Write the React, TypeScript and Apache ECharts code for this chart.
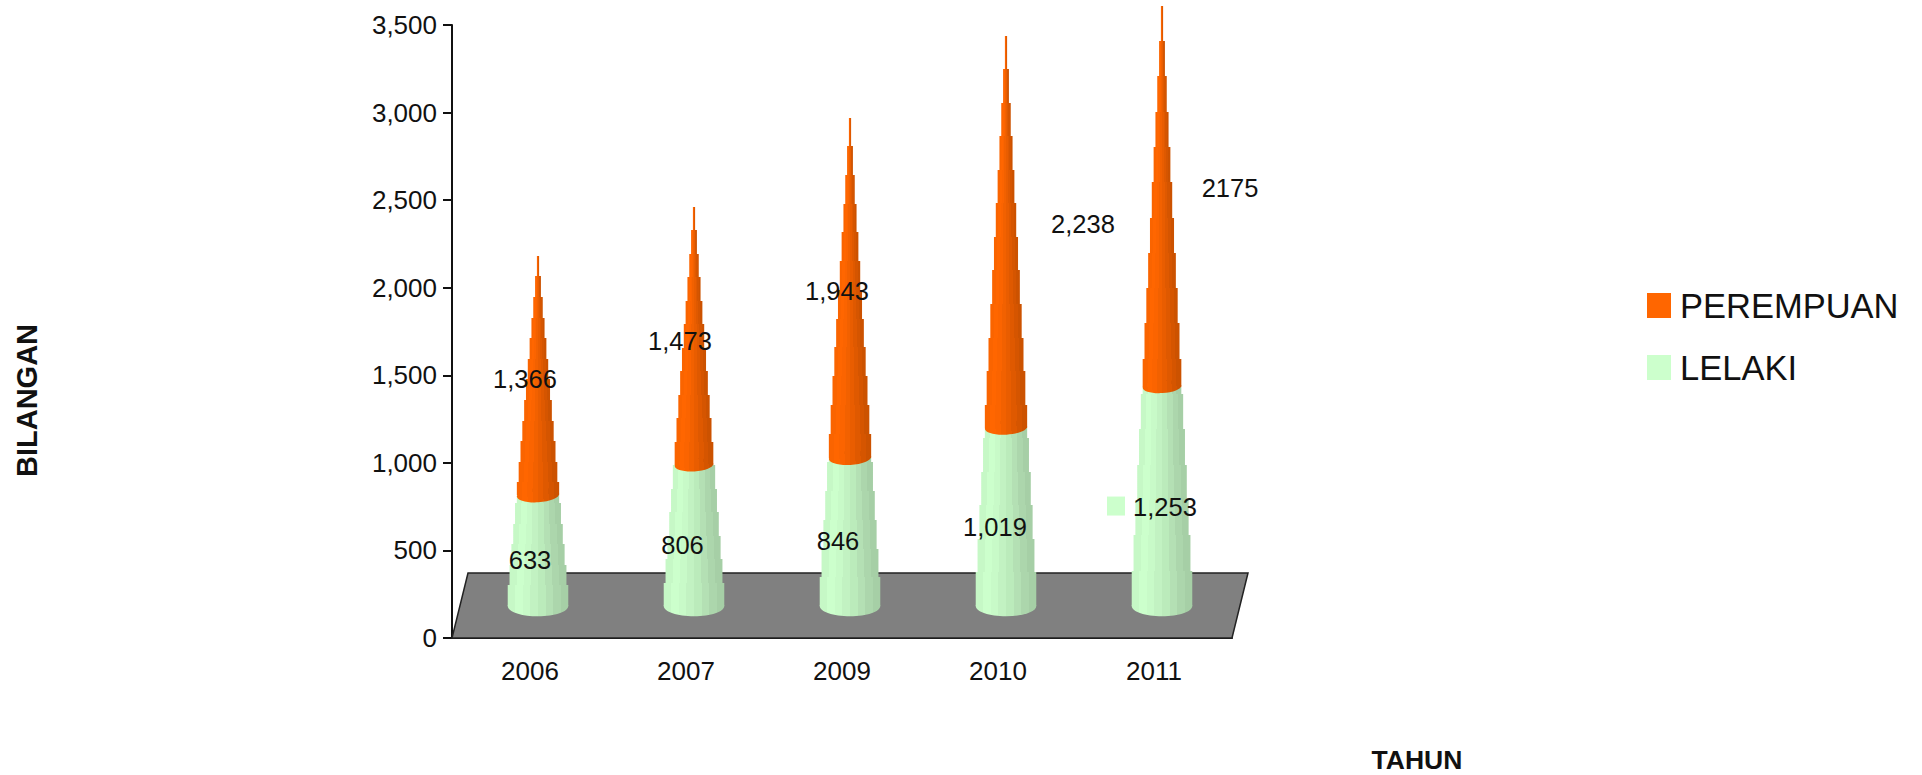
import React, { useEffect, useRef } from "react";
import * as echarts from "echarts";

const categories = ["2006", "2007", "2009", "2010", "2011"];
const lelaki = [633, 806, 846, 1019, 1253];
const perempuan = [1366, 1473, 1943, 2238, 2175];
const lelakiLabels = ["633", "806", "846", "1,019", "1,253"];
const perempuanLabels = ["1,366", "1,473", "1,943", "2,238", "2175"];

// layout only: hand-placed label offsets from each mark's top
const lelakiLabelOffsets = [[0, 33], [-3.5, 48], [-4, 51], [-3, 67.5], [11, 88]];
const perempuanLabelOffsets = [[-5, 91], [-6, 102.3], [-5, 141], [85, 156.6], [76, 150.6]];

const FONT = '"Liberation Sans", Arial, sans-serif';
const DEPTH_X = 16;
const DEPTH_Y = -65;
const BASE_DX = 8;
const BASE_DY = -32;
const BASE_W = 62;
const STEPS = 17;
const ELLIPSE = 0.34;

function bands(colors: string[]) {
  const stops: { offset: number; color: string }[] = [];
  colors.forEach((color, i) => {
    stops.push({ offset: i / colors.length, color });
    stops.push({ offset: (i + 1) / colors.length, color });
  });
  return new echarts.graphic.LinearGradient(0, 0, 1, 0, stops);
}
const greenBands = ["#c6f8c6", "#ccffcc", "#c8fac8", "#c2f2c2", "#bbebbb", "#b4e0b4", "#acd6ac", "#a6cfa6"];
const orangeBands = ["#fa6400", "#ff6600", "#fb6400", "#f26100", "#e95d00", "#df5900", "#d55500", "#cc5200"];

function coneItem(colors: string[], tilt: number) {
  return (params: any, api: any) => {
    const i = api.value(0);
    const low = api.value(1);
    const high = api.value(2);
    const total = api.value(3);
    const x = api.coord([i, 0])[0] + BASE_DX;
    const y0 = api.coord([i, 0])[1];
    const baseY = y0 + BASE_DY;
    const tipY = api.coord([i, total])[1] + BASE_DY;
    const yLow = api.coord([i, low])[1] + BASE_DY;
    const yHigh = api.coord([i, high])[1] + BASE_DY;
    const stepH = (baseY - tipY) / STEPS;
    const fill = bands(colors);
    const children: any[] = [];
    let widthAtLow = BASE_W;
    for (let k = 1; k <= STEPS; k++) {
      const top = tipY + (k - 1) * stepH;
      const bottom = top + stepH;
      const w = (BASE_W * (k - 0.4)) / STEPS;
      if (yLow >= top && yLow <= bottom) widthAtLow = w;
      const a = Math.round(Math.max(top, yHigh));
      const b = Math.round(Math.min(bottom, yLow));
      if (b <= a) continue;
      children.push({
        type: "rect",
        shape: { x: x - w / 2, y: a, width: w, height: b - a },
        style: { fill },
      });
    }
    const rx = widthAtLow / 2;
    children.push({
      type: "ellipse",
      x,
      y: yLow,
      rotation: tilt,
      shape: { cx: 0, cy: 0, rx, ry: rx * ELLIPSE },
      style: { fill },
    });
    return { type: "group", children };
  };
}

function floorItem(params: any, api: any) {
  const band = api.size([1, 0])[0];
  const [l, y] = api.coord([0, 0]);
  const [r] = api.coord([categories.length - 1, 0]);
  const x1 = l - band / 2;
  const x2 = r + band / 2;
  return {
    type: "polygon",
    shape: {
      points: [
        [x1, y],
        [x1 + DEPTH_X, y + DEPTH_Y],
        [x2 + DEPTH_X, y + DEPTH_Y],
        [x2, y],
      ],
    },
    style: { fill: "#808080", stroke: "#222222", lineWidth: 1.5 },
  };
}

function labelItem(texts: string[], offsets: number[][], keyAt: number) {
  return (params: any, api: any) => {
    const i = api.value(0);
    const [x, y] = api.coord([i, api.value(1)]);
    const [dx, dy] = offsets[i];
    const children: any[] = [
      {
        type: "text",
        x: x + dx,
        y: y + dy,
        style: {
          text: texts[i],
          fill: "#111111",
          font: `25.5px ${FONT}`,
          align: "center",
          verticalAlign: "middle",
        },
      },
    ];
    if (i === keyAt) {
      children.push({
        type: "rect",
        shape: { x: x + dx - 58, y: y + dy - 10, width: 18, height: 19 },
        style: { fill: "#ccffcc" },
      });
    }
    return { type: "group", children };
  };
}

export default function App() {
  const ref = useRef<HTMLDivElement>(null);
  useEffect(() => {
    const chart = echarts.init(ref.current!, null, { renderer: "svg" });
    const stacked = categories.map((_, i) => lelaki[i] + perempuan[i]);
    const axisText = { color: "#111111", fontFamily: FONT, fontSize: 26 };
    chart.setOption({
      animation: false,
      backgroundColor: "#ffffff",
      grid: { left: 452, top: 25, width: 780, height: 613 },
      xAxis: {
        type: "category",
        data: categories,
        axisLine: { lineStyle: { color: "#111111", width: 2 } },
        axisTick: { length: 9, lineStyle: { color: "#111111", width: 2 } },
        axisLabel: { ...axisText, margin: 20 },
      },
      yAxis: {
        type: "value",
        min: 0,
        max: 3500,
        interval: 500,
        axisLine: { show: true, lineStyle: { color: "#111111", width: 2 } },
        axisTick: { show: true, length: 9, lineStyle: { color: "#111111", width: 2 } },
        axisLabel: { ...axisText, margin: 15 },
        splitLine: { show: false },
      },
      legend: {
        orient: "vertical",
        left: 1647,
        top: 288,
        itemWidth: 24,
        itemHeight: 25,
        itemGap: 27,
        icon: "rect",
        padding: 0,
        data: ["PEREMPUAN", "LELAKI"],
        textStyle: { color: "#111111", fontFamily: FONT, fontSize: 34.5, padding: [0, 0, 0, 4] },
      },
      graphic: [
        {
          type: "text",
          x: 26.5,
          y: 400.5,
          rotation: Math.PI / 2,
          style: {
            text: "BILANGAN",
            fill: "#111111",
            font: `bold 29px ${FONT}`,
            align: "center",
            verticalAlign: "middle",
          },
        },
        {
          type: "text",
          x: 1417,
          y: 760,
          style: {
            text: "TAHUN",
            fill: "#111111",
            font: `bold 26.5px ${FONT}`,
            align: "center",
            verticalAlign: "middle",
          },
        },
      ],
      series: [
        {
          type: "custom",
          name: "floor",
          silent: true,
          renderItem: floorItem,
          data: [[0, 0]],
          encode: { x: 0, y: 1 },
          z: 1,
        },
        {
          type: "custom",
          name: "LELAKI",
          itemStyle: { color: "#ccffcc" },
          renderItem: coneItem(greenBands, 0),
          data: categories.map((_, i) => [i, 0, lelaki[i], stacked[i]]),
          encode: { x: 0, y: 2 },
          z: 2,
        },
        {
          type: "custom",
          name: "PEREMPUAN",
          itemStyle: { color: "#ff6600" },
          renderItem: coneItem(orangeBands, 0.06),
          data: categories.map((_, i) => [i, lelaki[i], stacked[i], stacked[i]]),
          encode: { x: 0, y: 2 },
          z: 3,
        },
        {
          type: "custom",
          name: "lelakiLabels",
          silent: true,
          renderItem: labelItem(lelakiLabels, lelakiLabelOffsets, 4),
          data: categories.map((_, i) => [i, lelaki[i]]),
          encode: { x: 0, y: 1 },
          z: 4,
        },
        {
          type: "custom",
          name: "perempuanLabels",
          silent: true,
          renderItem: labelItem(perempuanLabels, perempuanLabelOffsets, -1),
          data: categories.map((_, i) => [i, stacked[i]]),
          encode: { x: 0, y: 1 },
          z: 4,
        },
      ],
    });
    return () => chart.dispose();
  }, []);
  return <div ref={ref} style={{ position: "fixed", left: 0, top: 0, width: 1922, height: 775 }} />;
}
